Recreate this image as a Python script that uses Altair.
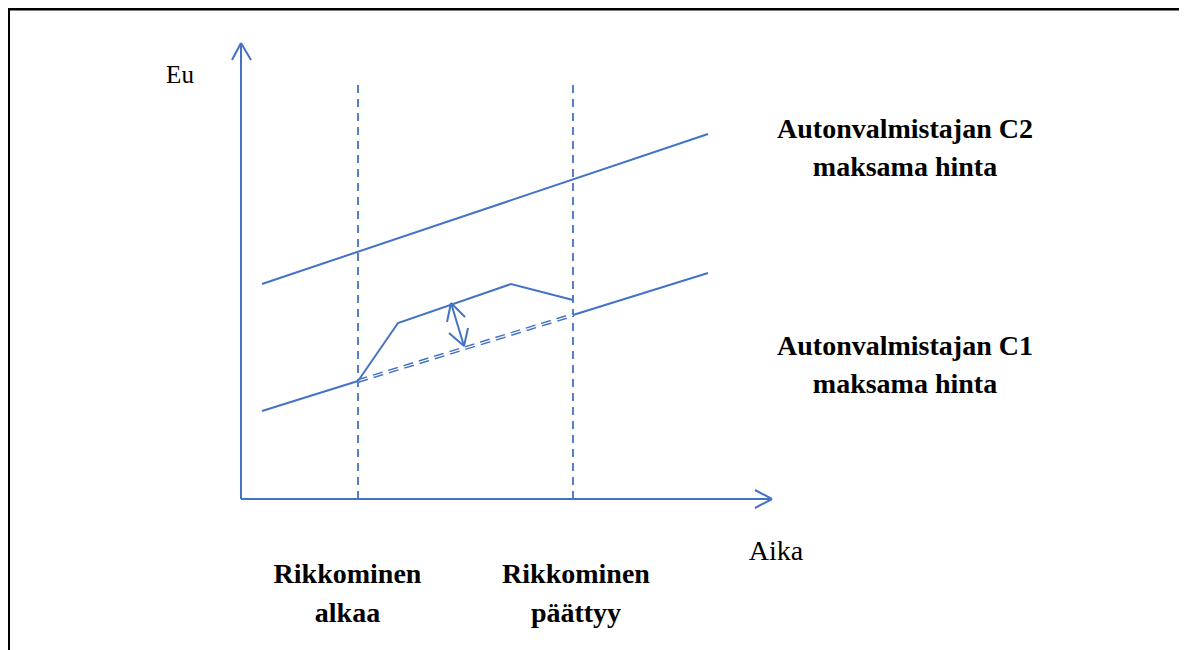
import altair as alt
import pandas as pd

BLUE = "#4472C4"

# Axes (time on x, euros on y), in diagram units
axis_x = [0.0, 0.0, 0.0, 53.1]
axis_y = [0.0, 45.6, 0.0, 0.0]

# Arrow heads: wing endpoints paired with their tips
head_tip_x = [0.0, 0.0, 53.1, 53.1, 21.0, 21.0, 22.3, 22.3]
head_tip_y = [45.6, 45.6, 0.0, 0.0, 19.6, 19.6, 15.3, 15.3]
head_wing_x = [-0.9, 1.0, 51.4, 51.4, 20.6, 22.4, 20.8, 22.7]
head_wing_y = [43.9, 43.9, 0.9, -0.9, 17.7, 18.2, 16.6, 17.1]

# Double arrow shaft
shaft_x = [21.0, 22.3]
shaft_y = [19.6, 15.3]

# Infringement start / end times
event_t = [11.7, 33.2]
event_top = 41.7

# Price paid by car maker C2
c2_t = [2.1, 46.7]
c2_p = [21.5, 36.5]

# Price paid by car maker C1 (before and after infringement)
c1a_t = [2.1, 11.7]
c1a_p = [8.8, 11.8]
c1b_t = [33.2, 46.7]
c1b_p = [18.4, 22.6]

# Counterfactual C1 price during infringement
cf_t = [11.7, 33.2]
cf_p = [11.8, 18.4]

# Overcharged C1 price during infringement
over_t = [11.7, 15.7, 27.0, 33.2]
over_p = [11.8, 17.6, 21.5, 19.9]

# Labels
lbl_bold = ["Autonvalmistajan C2", "maksama hinta",
            "Autonvalmistajan C1", "maksama hinta",
            "Rikkominen", "alkaa", "Rikkominen", "päättyy"]
lbl_bold_x = [66.4, 66.4, 66.4, 66.4, 10.65, 10.65, 33.5, 33.5]
lbl_bold_y = [36.9, 33.1, 15.2, 11.4, -7.6, -11.5, -7.6, -11.5]
lbl_reg = ["Eu", "Aika"]
lbl_reg_x = [-6.1, 53.5]
lbl_reg_y = [42.4, -5.3]
lbl_reg_size = [25, 28]

# Frame
frame_x = [-23.25, -23.3]
frame_x2 = [-23.25, 93.8]
frame_y = [-15.1, 49.0]
frame_y2 = [49.0, 49.0]

XD = [-23.3, 93.8]
YD = [-15.1, 49.1]
xs = alt.Scale(domain=XD, nice=False, zero=False)
ys = alt.Scale(domain=YD, nice=False, zero=False)


def X(f):
    return alt.X(f, type="quantitative", scale=xs, axis=None)


def Y(f):
    return alt.Y(f, type="quantitative", scale=ys, axis=None)


segs = []
# axes
segs.append(dict(x=axis_x[0], y=axis_y[0], x2=axis_x[1], y2=axis_y[1]))
segs.append(dict(x=axis_x[2], y=axis_y[2], x2=axis_x[3], y2=axis_y[3]))
for tx, ty, wx, wy in zip(head_tip_x, head_tip_y, head_wing_x, head_wing_y):
    segs.append(dict(x=tx, y=ty, x2=wx, y2=wy))
segs.append(dict(x=shaft_x[0], y=shaft_y[0], x2=shaft_x[1], y2=shaft_y[1]))
for a, b in [(c2_t, c2_p), (c1a_t, c1a_p), (c1b_t, c1b_p)]:
    segs.append(dict(x=a[0], y=b[0], x2=a[1], y2=b[1]))
seg_df = pd.DataFrame(segs)

solid = alt.Chart(seg_df).mark_rule(color=BLUE, strokeWidth=2).encode(
    x=X("x"), y=Y("y"), x2="x2", y2="y2")

over_df = pd.DataFrame({"t": over_t, "p": over_p, "o": list(range(len(over_t)))})
over = alt.Chart(over_df).mark_line(color=BLUE, strokeWidth=2).encode(
    x=X("t"), y=Y("p"), order="o")

ev_df = pd.DataFrame({"t": event_t, "y0": [0.0, 0.0], "y1": [event_top, event_top]})
events = alt.Chart(ev_df).mark_rule(color=BLUE, strokeWidth=1.8, strokeDash=[8, 6]).encode(
    x=X("t"), y=Y("y0"), y2="y1")

cf_df = pd.DataFrame({"t": cf_t[:1], "p": cf_p[:1], "t2": cf_t[1:], "p2": cf_p[1:]})
cf_outer = alt.Chart(cf_df).mark_rule(color=BLUE, strokeWidth=4, strokeDash=[10, 6]).encode(
    x=X("t"), y=Y("p"), x2="t2", y2="p2")
cf_inner = alt.Chart(cf_df).mark_rule(color="white", strokeWidth=1.2).encode(
    x=X("t"), y=Y("p"), x2="t2", y2="p2")

fr_df = pd.DataFrame({"x": frame_x, "x2": frame_x2, "y": frame_y, "y2": frame_y2})
frame = alt.Chart(fr_df).mark_rule(color="black", strokeWidth=3).encode(
    x=X("x"), y=Y("y"), x2="x2", y2="y2")

bold_df = pd.DataFrame({"s": lbl_bold, "x": lbl_bold_x, "y": lbl_bold_y})
bold_txt = alt.Chart(bold_df).mark_text(
    font="Liberation Serif", fontWeight="bold", fontSize=28, color="black",
    align="center", baseline="middle").encode(x=X("x"), y=Y("y"), text="s")

reg_df = pd.DataFrame({"s": lbl_reg, "x": lbl_reg_x, "y": lbl_reg_y, "fs": lbl_reg_size})
reg_txt = alt.Chart(reg_df).mark_text(
    font="Liberation Serif", color="black", align="center", baseline="middle").encode(
    x=X("x"), y=Y("y"), text="s", size=alt.Size("fs:Q", scale=None, legend=None))

chart = alt.layer(frame, events, cf_outer, cf_inner, solid, over, bold_txt, reg_txt).properties(
    width=1171, height=642, padding=0, autosize=alt.AutoSizeParams(type="none"),
    background="white"
).configure_view(stroke=None)

chart.save("out.html", embed_options={"renderer": "svg", "actions": False})
